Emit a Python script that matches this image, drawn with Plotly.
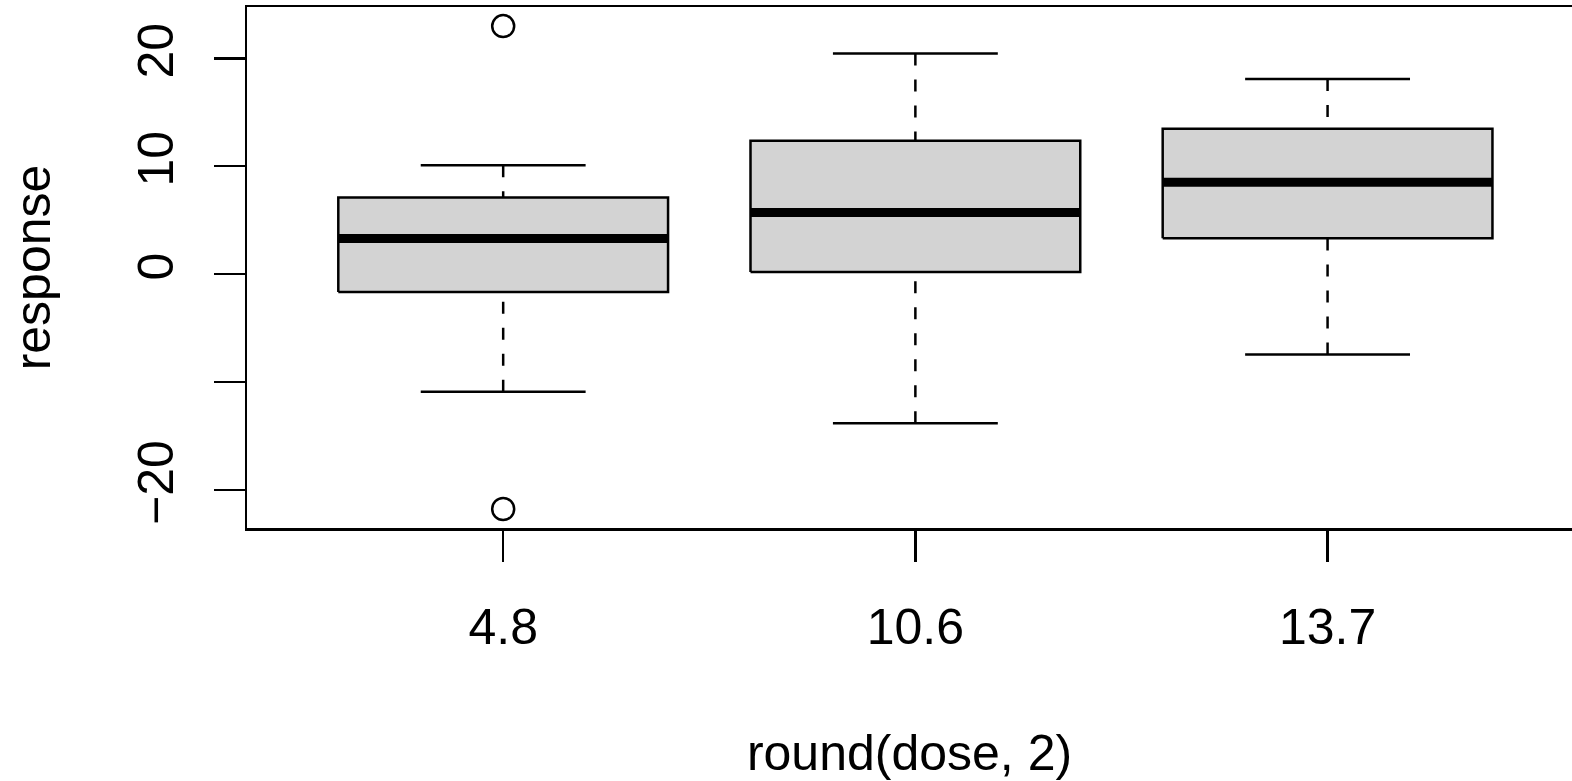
import plotly.graph_objects as go

# ---- data ----
categories = ["4.8", "10.6", "13.7"]
lower_whisker = [-10.9, -13.8, -7.45]
q1 = [-1.65, 0.2, 3.33]
median = [3.31, 5.72, 8.52]
q3 = [7.11, 12.35, 13.47]
upper_whisker = [10.1, 20.45, 18.07]
outlier_category = ["4.8", "4.8"]
outlier_values = [22.98, -21.75]

y_tickvals = [-20, -10, 0, 10, 20]
y_ticktext = ["\u221220", "", "0", "10", "20"]

FONT = "Liberation Sans, Arial, Helvetica, sans-serif"
BOX_W = 0.4   # half box width
CAP_W = 0.2   # half cap width
LW = 2.5

fig = go.Figure()
pos = {c: i + 1 for i, c in enumerate(categories)}

for i, c in enumerate(categories):
    x = pos[c]
    # box
    fig.add_trace(go.Scatter(
        x=[x - BOX_W, x + BOX_W, x + BOX_W, x - BOX_W, x - BOX_W],
        y=[q1[i], q1[i], q3[i], q3[i], q1[i]],
        mode="lines", fill="toself", fillcolor="#d3d3d3",
        line=dict(color="black", width=LW), hoverinfo="skip", showlegend=False))
    # whiskers (dashed), drawn from cap toward box
    for end, edge in ((upper_whisker[i], q3[i]), (lower_whisker[i], q1[i])):
        fig.add_trace(go.Scatter(
            x=[x, x], y=[end, edge], mode="lines",
            line=dict(color="black", width=LW, dash="12px,14px"),
            hoverinfo="skip", showlegend=False))
        fig.add_trace(go.Scatter(
            x=[x - CAP_W, x + CAP_W], y=[end, end], mode="lines",
            line=dict(color="black", width=LW),
            hoverinfo="skip", showlegend=False))
    # median
    fig.add_trace(go.Scatter(
        x=[x - BOX_W, x + BOX_W], y=[median[i], median[i]], mode="lines",
        line=dict(color="black", width=9), hoverinfo="skip", showlegend=False))

# outliers
fig.add_trace(go.Scatter(
    x=[pos[c] for c in outlier_category], y=outlier_values, mode="markers",
    marker=dict(symbol="circle-open", size=22, color="black", line=dict(width=2.5)),
    hoverinfo="skip", showlegend=False))

fig.update_layout(
    width=1572, height=781,
    margin=dict(l=247, r=0, t=7, b=253, pad=0),
    paper_bgcolor="white", plot_bgcolor="white",
    font=dict(family=FONT, size=50, color="black"),
    showlegend=False,
)
fig.update_xaxes(
    range=[0.3785, 3.593], tickmode="array", tickvals=[1, 2, 3], ticktext=categories,
    ticks="outside", ticklen=31, tickwidth=LW, tickcolor="black",
    showline=True, mirror=True, linecolor="black", linewidth=LW,
    showgrid=False, zeroline=False, ticklabelstandoff=22, automargin=False,
    title=dict(text="round(dose, 2)", standoff=83, font=dict(size=50)),
)
fig.update_yaxes(
    range=[-23.51, 24.75], tickmode="array", tickvals=y_tickvals, ticktext=y_ticktext,
    ticks="outside", ticklen=31, tickwidth=LW, tickcolor="black", tickangle=-90,
    showline=True, mirror=False, linecolor="black", linewidth=LW,
    showgrid=False, zeroline=False, ticklabelstandoff=21, automargin=False,
    title=dict(text="response", standoff=61, font=dict(size=50)),
)

fig.write_html(
    "out.html",
    config={"displayModeBar": False, "staticPlot": True},
    post_script="document.body.style.margin='0px';document.body.style.overflow='hidden';",
)
